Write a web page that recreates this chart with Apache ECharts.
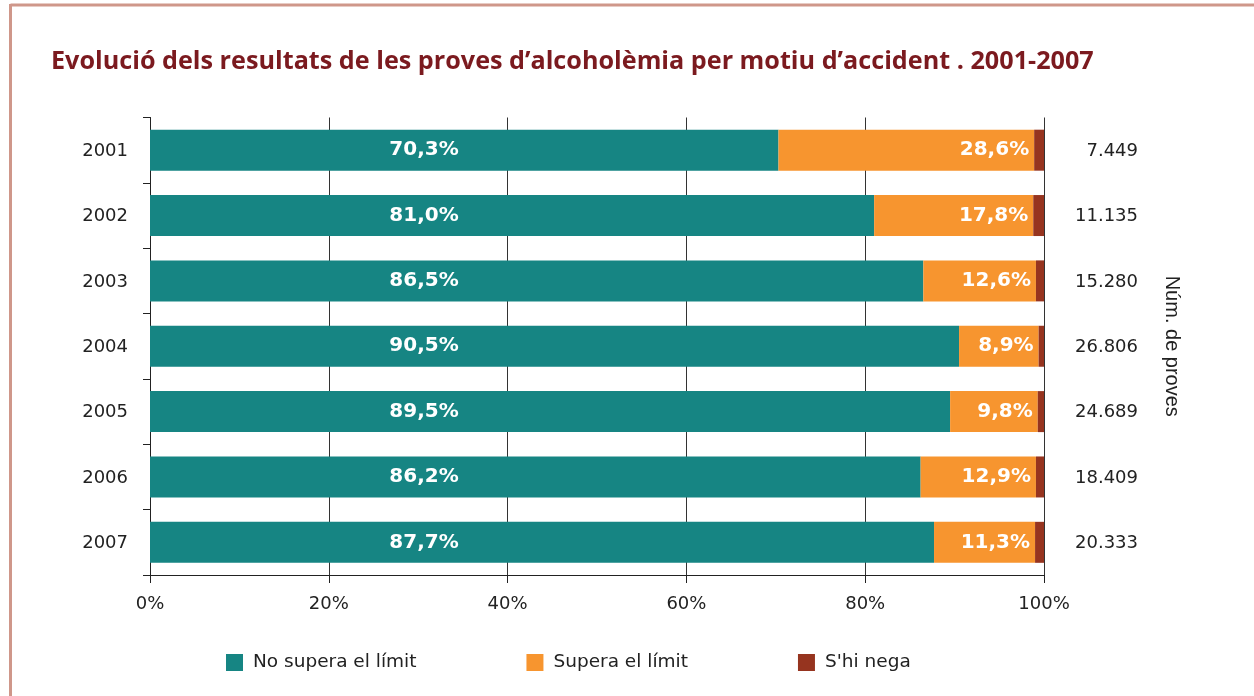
<!DOCTYPE html>
<html>
<head>
<meta charset="utf-8">
<script src="https://cdn.jsdelivr.net/npm/echarts@6/dist/echarts.min.js"></script>
<style>
  html, body { margin: 0; padding: 0; background: #fff; }
  #chart { width: 1254px; height: 696px; }
</style>
</head>
<body>
<div id="chart"></div>
<script>
// dades llegides del gràfic
const years = ['2001', '2002', '2003', '2004', '2005', '2006', '2007'];
const noSupera = [70.3, 81.0, 86.5, 90.5, 89.5, 86.2, 87.7];
const supera = [28.6, 17.8, 12.6, 8.9, 9.8, 12.9, 11.3];
const shiNega = [1.1, 1.2, 0.9, 0.6, 0.7, 0.9, 1.0];
const numProves = ['7.449', '11.135', '15.280', '26.806', '24.689', '18.409', '20.333'];
const xTicks = [0, 20, 40, 60, 80, 100];

const chart = echarts.init(document.getElementById('chart'));

const fmt = p => p.value.toFixed(1).replace('.', ',') + '%';
const labelFont = { color: '#fff', fontFamily: 'DejaVu Sans', fontWeight: 'bold', fontSize: 20 };

const option = {
  animation: false,
  title: {
    text: 'Evolució dels resultats de les proves d\u2019alcoholèmia per motiu d\u2019accident . 2001-2007',
    left: 46,
    top: 44,
    textStyle: { color: '#7b1a1f', fontFamily: 'Open Sans', fontWeight: 'bold', fontSize: 25.2 }
  },
  graphic: [
    { type: 'line', shape: { x1: 10.5, y1: 5, x2: 1254, y2: 5 }, style: { stroke: '#cf978a', lineWidth: 3 } },
    { type: 'line', shape: { x1: 10.5, y1: 4, x2: 10.5, y2: 696 }, style: { stroke: '#cf978a', lineWidth: 3 } }
  ],
  legend: {
    left: 221,
    top: 648,
    itemWidth: 17,
    itemHeight: 17,
    itemGap: 110,
    icon: 'rect',
    textStyle: { fontFamily: 'DejaVu Sans', fontSize: 18.5, color: '#222', padding: [0, 0, 0, 5] },
    data: ['No supera el límit', 'Supera el límit', "S'hi nega"]
  },
  grid: { left: 150, right: 210, top: 117.5, bottom: 121 },
  xAxis: {
    type: 'value',
    min: xTicks[0],
    max: xTicks[xTicks.length - 1],
    interval: 20,
    axisLine: { show: true, lineStyle: { color: '#222', width: 1 } },
    axisTick: { show: true, length: 8, lineStyle: { color: '#222' } },
    splitLine: { show: true, lineStyle: { color: '#333', width: 1 } },
    axisLabel: { formatter: '{value}%', margin: 20, color: '#222', fontFamily: 'DejaVu Sans', fontSize: 18 }
  },
  yAxis: [
    {
      type: 'category',
      data: years,
      inverse: true,
      axisLine: { show: true, lineStyle: { color: '#222', width: 1 } },
      axisTick: { show: true, length: 7, lineStyle: { color: '#222' } },
      axisLabel: { margin: 22, verticalAlign: 'top', padding: [-8, 0, 0, 0], color: '#222', fontFamily: 'DejaVu Sans', fontSize: 18 }
    },
    {
      type: 'category',
      data: numProves,
      inverse: true,
      position: 'right',
      axisLine: { show: false },
      axisTick: { show: false },
      axisLabel: { margin: 94, align: 'right', verticalAlign: 'top', padding: [-8, 0, 0, 0], color: '#222', fontFamily: 'DejaVu Sans', fontSize: 18 },
      name: 'Núm. de proves',
      nameLocation: 'middle',
      nameRotate: -90,
      nameGap: 118,
      nameTextStyle: { color: '#222', fontFamily: 'Liberation Sans', fontSize: 20 }
    }
  ],
  series: [
    {
      name: 'No supera el límit',
      type: 'bar',
      stack: 'total',
      barWidth: 41,
      data: noSupera,
      itemStyle: { color: '#168583' },
      label: { show: true, position: [274, '50%'], align: 'center', verticalAlign: 'middle', formatter: fmt, ...labelFont }
    },
    {
      name: 'Supera el límit',
      type: 'bar',
      stack: 'total',
      barWidth: 41,
      data: supera,
      itemStyle: { color: '#f7952f' },
      label: { show: true, position: 'insideRight', distance: 5, formatter: fmt, ...labelFont }
    },
    {
      name: "S'hi nega",
      type: 'bar',
      stack: 'total',
      barWidth: 41,
      data: shiNega,
      itemStyle: { color: '#96341f' }
    }
  ]
};

chart.setOption(option);
</script>
</body>
</html>
